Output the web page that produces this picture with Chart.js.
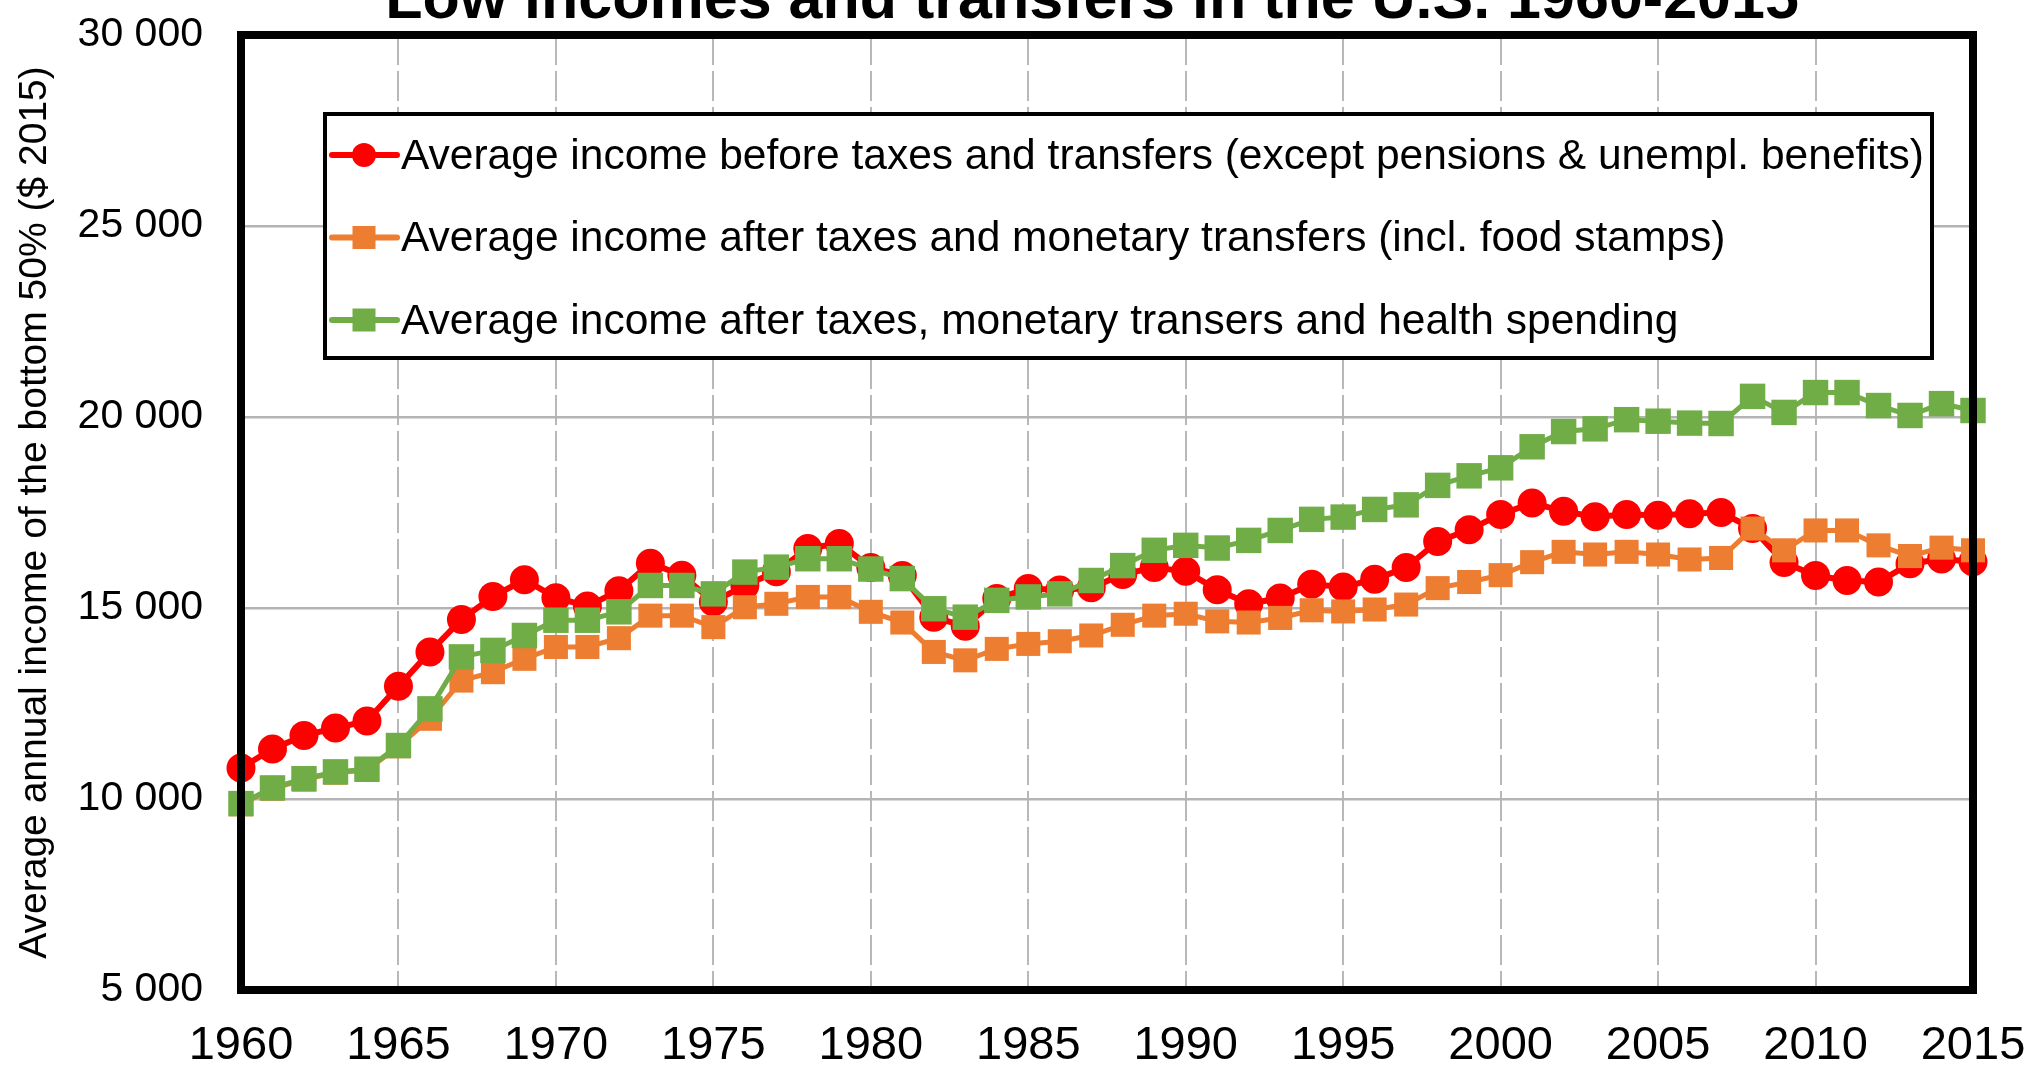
<!DOCTYPE html>
<html>
<head>
<meta charset="utf-8">
<title>Low incomes and transfers in the U.S. 1960-2015</title>
<script src="https://cdn.jsdelivr.net/npm/chart.js@4.4.1/dist/chart.umd.min.js"></script>
<style>
  html, body { margin: 0; padding: 0; background: #fff; }
  #wrap { width: 2030px; height: 1068px; }
</style>
</head>
<body>
<div id="wrap"><canvas id="myChart" width="2030" height="1068"></canvas></div>
<script>
const chartTitle = 'Low incomes and transfers in the U.S. 1960-2015';
const yAxisTitle = 'Average annual income of the bottom 50% ($ 2015)';

const years = [1960, 1961, 1962, 1963, 1964, 1965, 1966, 1967, 1968, 1969,
               1970, 1971, 1972, 1973, 1974, 1975, 1976, 1977, 1978, 1979,
               1980, 1981, 1982, 1983, 1984, 1985, 1986, 1987, 1988, 1989,
               1990, 1991, 1992, 1993, 1994, 1995, 1996, 1997, 1998, 1999,
               2000, 2001, 2002, 2003, 2004, 2005, 2006, 2007, 2008, 2009,
               2010, 2011, 2012, 2013, 2014, 2015];

const xTicks = [1960, 1965, 1970, 1975, 1980, 1985, 1990, 1995, 2000, 2005, 2010, 2015];
const yTicks = [5000, 10000, 15000, 20000, 25000, 30000];

// series labels
const labelBefore = 'Average income before taxes and transfers (except pensions & unempl. benefits)';
const labelMonetary = 'Average income after taxes and monetary transfers (incl. food stamps)';
const labelHealth = 'Average income after taxes, monetary transers and health spending';

// $ 2015
const beforeTax = [10810, 11310, 11660, 11860, 12040, 12950, 13850, 14700, 15300, 15740,
                   15270, 15050, 15450, 16170, 15860, 15160, 15590, 15950, 16560, 16690,
                   16060, 15850, 14760, 14520, 15250, 15510, 15470, 15530, 15880, 16060,
                   15960, 15480, 15110, 15260, 15620, 15550, 15750, 16060, 16740, 17050,
                   17450, 17750, 17530, 17390, 17450, 17430, 17470, 17500, 17080, 16190,
                   15850, 15720, 15680, 16160, 16280, 16210];

const afterMonetary = [9860, 10270, 10510, 10690, 10760, 11380, 12100, 13100, 13320, 13670,
                       13980, 13980, 14210, 14800, 14800, 14500, 15020, 15110, 15290, 15290,
                       14900, 14620, 13850, 13630, 13930, 14060, 14130, 14280, 14560, 14800,
                       14850, 14650, 14620, 14740, 14940, 14910, 14960, 15090, 15520, 15680,
                       15860, 16200, 16470, 16400, 16470, 16400, 16270, 16310, 17080, 16510,
                       17030, 17030, 16640, 16360, 16580, 16510];

const afterHealth = [9880, 10290, 10530, 10710, 10780, 11400, 12360, 13720, 13890, 14280,
                     14680, 14680, 14900, 15590, 15590, 15370, 15940, 16070, 16290, 16290,
                     16020, 15770, 14980, 14760, 15200, 15290, 15370, 15720, 16110, 16510,
                     16640, 16570, 16770, 17030, 17320, 17380, 17580, 17700, 18210, 18460,
                     18670, 19220, 19620, 19690, 19930, 19890, 19840, 19830, 20540, 20120,
                     20640, 20640, 20300, 20040, 20350, 20170];

const FONT = '"Liberation Sans", Arial, sans-serif';

function toPoints(values) {
  return years.map((yr, i) => ({ x: yr, y: values[i] }));
}

// 30000 -> "30 000"
function spaced(v) {
  return String(v).replace(/\B(?=(\d{3})+(?!\d))/g, ' ');
}

// legend entries, in the order of the picture
var legendItems = [
  { label: labelBefore, color: '#ff0000', shape: 'circle' },
  { label: labelMonetary, color: '#ed7d31', shape: 'rect' },
  { label: labelHealth, color: '#70ad47', shape: 'rect' }
];

function drawMarker(ctx, shape, x, y, r) {
  if (shape == 'circle') {
    ctx.beginPath();
    ctx.arc(x, y, r, 0, Math.PI * 2);
    ctx.fill();
  } else {
    ctx.fillRect(x - r, y - r, 2 * r, 2 * r);
  }
}

const framePlugin = {
  id: 'frame',
  afterDatasetsDraw(chart) {
    const { ctx, chartArea: a } = chart;
    ctx.save();
    ctx.lineWidth = 8;
    ctx.strokeStyle = '#000';
    ctx.strokeRect(a.left, a.top, a.right - a.left, a.bottom - a.top);
    ctx.restore();
  }
};

const boxLegendPlugin = {
  id: 'boxLegend',
  afterDraw(chart) {
    const { ctx, chartArea: a } = chart;
    const left = a.left + 84, top = a.top + 79;
    const right = a.right - 41, bottom = a.top + 323;
    ctx.save();
    ctx.fillStyle = '#fff';
    ctx.fillRect(left, top, right - left, bottom - top);
    ctx.lineWidth = 4;
    ctx.strokeStyle = '#000';
    ctx.strokeRect(left, top, right - left, bottom - top);

    ctx.font = '42.5px ' + FONT;
    ctx.textBaseline = 'middle';
    ctx.textAlign = 'left';
    legendItems.forEach((item, i) => {
      const y = top + 41 + i * 82.5;
      ctx.strokeStyle = item.color;
      ctx.fillStyle = item.color;
      ctx.lineWidth = 6;
      ctx.lineCap = 'round';
      ctx.beginPath();
      ctx.moveTo(left + 7, y);
      ctx.lineTo(left + 72, y);
      ctx.stroke();
      drawMarker(ctx, item.shape, left + 39, y, item.shape == 'circle' ? 12 : 11.5);
      ctx.fillStyle = '#000';
      ctx.fillText(item.label, left + 76, y + 2);
    });
    ctx.restore();
  }
};

const titlePlugin = {
  id: 'clippedTitle',
  afterDraw(chart) {
    const { ctx, chartArea: a } = chart;
    ctx.save();
    ctx.font = 'bold 61px ' + FONT;
    ctx.fillStyle = '#000';
    ctx.textAlign = 'center';
    ctx.textBaseline = 'alphabetic';
    ctx.fillText(chartTitle, (a.left + a.right) / 2 - 15, 18);
    ctx.restore();
  }
};

var myChart = document.getElementById('myChart').getContext('2d');
var chart = new Chart(myChart, {
  type: 'line',
  data: {
    datasets: [
      {
        label: labelBefore,
        data: toPoints(beforeTax),
        borderColor: '#ff0000',
        backgroundColor: '#ff0000',
        borderWidth: 6,
        pointStyle: 'circle',
        pointRadius: 14.5,
        pointBorderWidth: 0,
        order: 2,
        clip: false
      },
      {
        label: labelMonetary,
        data: toPoints(afterMonetary),
        borderColor: '#ed7d31',
        backgroundColor: '#ed7d31',
        borderWidth: 5,
        pointStyle: 'rect',
        pointRadius: 17,
        pointBorderWidth: 0,
        order: 1,
        clip: false
      },
      {
        label: labelHealth,
        data: toPoints(afterHealth),
        borderColor: '#70ad47',
        backgroundColor: '#70ad47',
        borderWidth: 5,
        pointStyle: 'rect',
        pointRadius: 18,
        pointBorderWidth: 0,
        order: 0,
        clip: false
      }
    ]
  },
  options: {
    responsive: false,
    animation: false,
    events: [],
    layout: { padding: { left: 0, top: 35, right: 57, bottom: 0 } },
    scales: {
      x: {
        type: 'linear',
        min: 1960,
        max: 2015,
        afterBuildTicks: (s) => { s.ticks = xTicks.map(v => ({ value: v })); },
        afterFit: (s) => {
          s.height = 78;
          // keep the plot edges where the picture has them
          s.paddingLeft = 0;
          s.paddingRight = 0;
        },
        ticks: {
          color: '#000',
          font: { family: FONT, size: 47 },
          padding: 28,
          maxRotation: 0,
          autoSkip: false,
          callback: (v) => String(v)
        },
        grid: { color: '#b8b8b8', lineWidth: 2, drawTicks: false },
        border: { display: false, dash: [30, 6] }
      },
      y: {
        min: 5000,
        max: 30000,
        afterBuildTicks: (s) => { s.ticks = yTicks.map(v => ({ value: v })); },
        afterFit: (s) => {
          s.width = 241;
          s.paddingTop = 0;
          s.paddingBottom = 0;
        },
        ticks: {
          color: '#000',
          font: { family: FONT, size: 41 },
          padding: 38,
          callback: (v) => spaced(v)
        },
        grid: { color: '#b4b4b4', lineWidth: 2.5, drawTicks: false },
        border: { display: false },
        title: {
          display: true,
          text: yAxisTitle,
          color: '#000',
          font: { family: FONT, size: 39 },
          padding: { top: 12, bottom: 0 }
        }
      }
    },
    plugins: {
      legend: { display: false },
      tooltip: { enabled: false }
    }
  },
  plugins: [framePlugin, boxLegendPlugin, titlePlugin]
});
</script>
</body>
</html>
